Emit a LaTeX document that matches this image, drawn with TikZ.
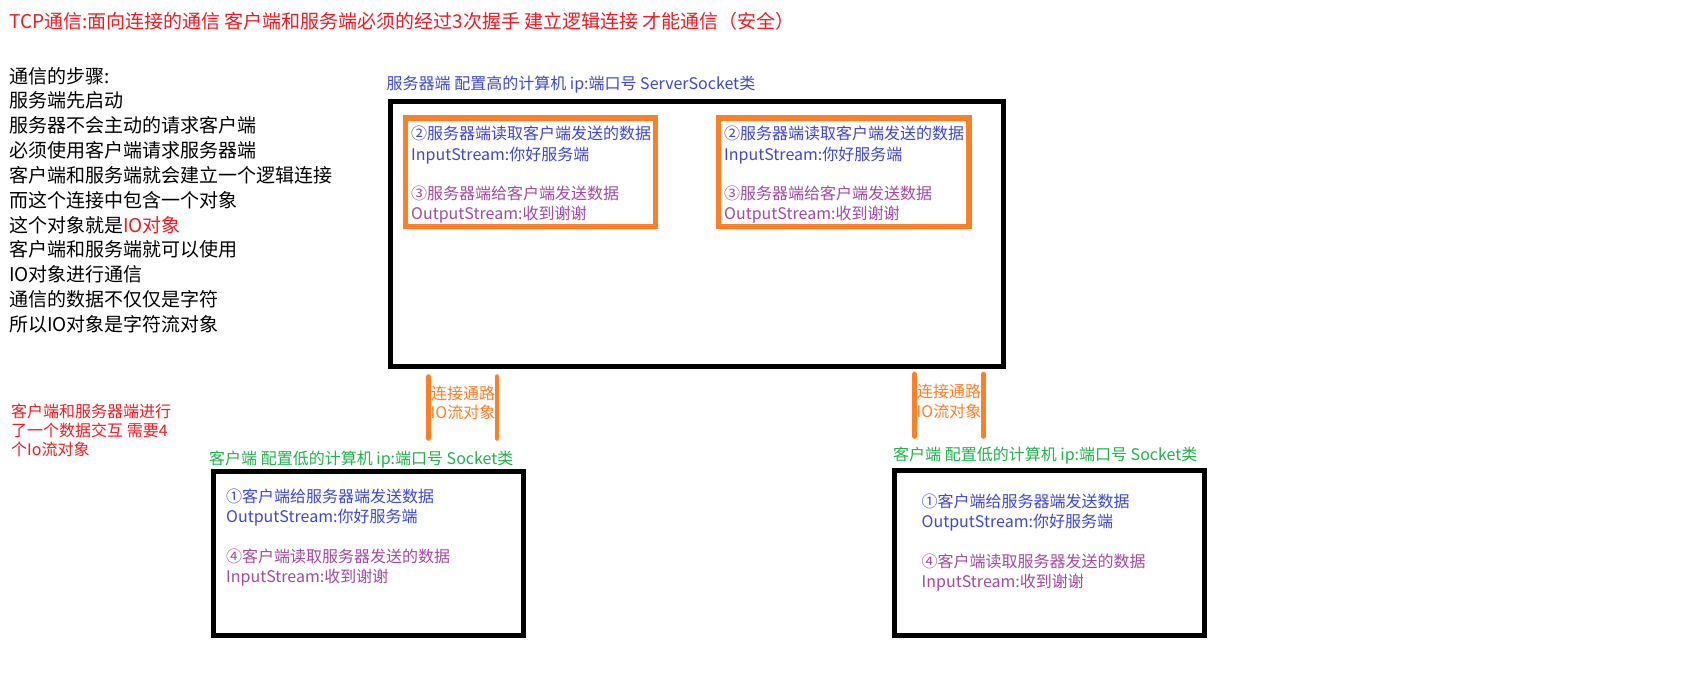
\documentclass[tikz,border=0pt]{standalone}
\usepackage{fontspec}
\setmainfont{Noto Sans CJK SC}
\definecolor{tred}{HTML}{ED1C24}
\definecolor{tblue}{HTML}{3F48CC}
\definecolor{tpurple}{HTML}{A349A4}
\definecolor{tgreen}{HTML}{22B14C}
\definecolor{torange}{HTML}{FF7F27}
\begin{document}
\begin{tikzpicture}[x=1pt,y=-1pt,
  txt/.style={anchor=west,inner sep=0pt,yshift=-3.5pt,text height=0.88em,text depth=0.12em,font=\fontsize{16}{18}\selectfont},
  big/.style={anchor=west,inner sep=0pt,yshift=-3.5pt,text height=0.88em,text depth=0.12em,font=\fontsize{19}{22}\selectfont},
  blk/.style={draw=black,line width=5pt,inner sep=0pt},
  obox/.style={draw=torange,line width=5.5pt,inner sep=0pt},
  pipe/.style={draw=torange,line width=4.5pt,line cap=round},
  ptxt/.style={inner sep=0pt,yshift=-3.5pt,text height=0.88em,text depth=0.12em,font=\fontsize{16}{18}\selectfont,text=torange}]
\useasboundingbox[fill=white] (0,0) rectangle (1697,683);

% title
\node[big,text=tred] (title) at (9,21.6) {TCP通信:面向连接的通信 客户端和服务端必须的经过3次握手 建立逻辑连接 才能通信（安全）};

% left steps
\node[big] (s1) at (9,75.7) {通信的步骤:};
\node[big] (s2) at (9,100.5) {服务端先启动};
\node[big] (s3) at (9,125.4) {服务器不会主动的请求客户端};
\node[big] (s4) at (9,150.2) {必须使用客户端请求服务器端};
\node[big] (s5) at (9,175.1) {客户端和服务端就会建立一个逻辑连接};
\node[big] (s6) at (9,199.9) {而这个连接中包含一个对象};
\node[big] (s7) at (9,224.8) {这个对象就是\textcolor{tred}{IO对象}};
\node[big] (s8) at (9,249.6) {客户端和服务端就可以使用};
\node[big] (s9) at (9,274.5) {IO对象进行通信};
\node[big] (s10) at (9,299.3) {通信的数据不仅仅是字符};
\node[big] (s11) at (9,324.2) {所以IO对象是字符流对象};

% red note
\node[txt,text=tred] (n1) at (11,410) {客户端和服务器端进行};
\node[txt,text=tred] (n2) at (11,429.3) {了一个数据交互 需要4};
\node[txt,text=tred] (n3) at (11,448.5) {个Io流对象};

% server
\node[txt,text=tblue] (srvlabel) at (386.5,82) {服务器端 配置高的计算机 ip:端口号 ServerSocket类};
\node[blk,minimum width=613.3pt,minimum height=264.2pt] (srv) at (696.85,233.9) {};
\node[obox,minimum width=250.2pt,minimum height=108.5pt] (ob1) at (530.6,172.25) {};
\node[obox,minimum width=250.7pt,minimum height=108.5pt] (ob2) at (843.85,172.25) {};

\node[txt,text=tblue] (a1) at (411,132.5) {②服务器端读取客户端发送的数据};
\node[txt,text=tblue] (a2) at (411,152.8) {InputStream:你好服务端};
\node[txt,text=tpurple] (a3) at (411,191.8) {③服务器端给客户端发送数据};
\node[txt,text=tpurple] (a4) at (411,212.5) {OutputStream:收到谢谢};

\node[txt,text=tblue] (b1) at (724,132.5) {②服务器端读取客户端发送的数据};
\node[txt,text=tblue] (b2) at (724,152.8) {InputStream:你好服务端};
\node[txt,text=tpurple] (b3) at (724,191.8) {③服务器端给客户端发送数据};
\node[txt,text=tpurple] (b4) at (724,212.5) {OutputStream:收到谢谢};

% connection pipes
\coordinate (p1t) at (428.5,376.5);
\coordinate (p1b) at (428.5,438.5);
\coordinate (p2t) at (497,376.5);
\coordinate (p2b) at (497,438.5);
\coordinate (p3t) at (914.5,374);
\coordinate (p3b) at (914.5,436.5);
\coordinate (p4t) at (983.5,374);
\coordinate (p4b) at (983.5,436.5);
\draw[pipe] (p1t) -- (p1b);
\draw[pipe] (p2t) -- (p2b);
\draw[pipe] (p3t) -- (p3b);
\draw[pipe] (p4t) -- (p4b);
\node[ptxt] (c1) at (463,392) {连接通路};
\node[ptxt] (c2) at (463,411.5) {IO流对象};
\node[ptxt] (c3) at (949,390.5) {连接通路};
\node[ptxt] (c4) at (949,410) {IO流对象};

% left client
\node[txt,text=tgreen] (cl1label) at (209,457) {客户端 配置低的计算机 ip:端口号 Socket类};
\node[blk,minimum width=309.5pt,minimum height=164.5pt] (cl1) at (368.25,553.25) {};
\node[txt,text=tblue] (d1) at (226,495) {①客户端给服务器端发送数据};
\node[txt,text=tblue] (d2) at (226,515) {OutputStream:你好服务端};
\node[txt,text=tpurple] (d3) at (226,555.5) {④客户端读取服务器发送的数据};
\node[txt,text=tpurple] (d4) at (226,575.5) {InputStream:收到谢谢};

% right client
\node[txt,text=tgreen] (cl2label) at (893,453.5) {客户端 配置低的计算机 ip:端口号 Socket类};
\node[blk,minimum width=309.5pt,minimum height=165pt] (cl2) at (1049.25,553) {};
\node[txt,text=tblue] (e1) at (921.5,500.5) {①客户端给服务器端发送数据};
\node[txt,text=tblue] (e2) at (921.5,520.5) {OutputStream:你好服务端};
\node[txt,text=tpurple] (e3) at (921.5,560) {④客户端读取服务器发送的数据};
\node[txt,text=tpurple] (e4) at (921.5,580) {InputStream:收到谢谢};
\end{tikzpicture}
\end{document}
